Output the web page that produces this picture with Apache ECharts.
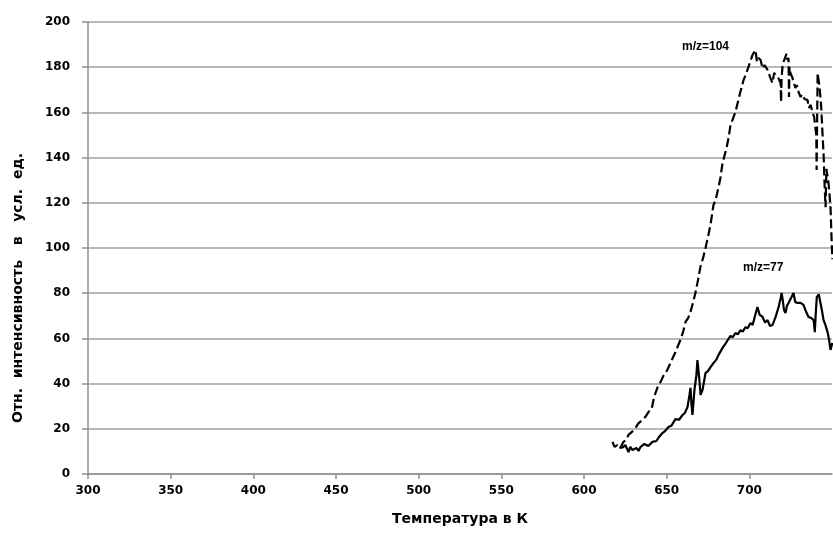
<!DOCTYPE html>
<html>
<head>
<meta charset="utf-8">
<script src="https://cdn.jsdelivr.net/npm/echarts@6/dist/echarts.min.js"></script>
<style>
  html, body { margin: 0; padding: 0; background: #fff; }
  #chart { width: 833px; height: 533px; }
</style>
</head>
<body>
<div id="chart"></div>
<script>
// Температура (K) и интенсивность для двух ионов
const tempTicks = [300, 350, 400, 450, 500, 550, 600, 650, 700];
const intensityTicks = [0, 20, 40, 60, 80, 100, 120, 140, 160, 180, 200];

const mz104 = [
  [617.2, 14.2], [618.5, 12.0], [620.2, 12.8], [622.0, 11.5], [623.8, 14.2], [625.5, 15.0],
  [626.9, 17.3], [629.0, 18.6], [631.1, 20.4], [633.0, 22.5], [634.2, 21.8], [635.3, 23.9],
  [637.0, 25.2], [639.0, 27.4], [641.0, 29.0], [642.0, 32.7], [643.2, 35.8], [645.0, 39.4],
  [646.5, 41.0], [648.0, 43.4], [650.0, 45.5], [652.3, 49.1], [655.3, 54.0], [658.3, 59.3],
  [660.0, 63.0], [661.4, 67.3], [663.0, 69.0], [664.4, 71.7], [666.0, 76.0], [667.4, 80.1],
  [669.0, 86.0], [670.5, 92.0], [672.0, 95.5], [673.5, 100.0], [675.0, 105.0], [676.5, 110.2],
  [678.3, 119.0], [679.5, 121.0], [681.4, 127.0], [682.5, 131.0], [683.8, 137.6], [686.2, 144.2],
  [687.5, 149.0], [688.6, 154.4], [690.0, 157.0], [691.6, 160.2], [694.1, 167.7], [696.5, 174.3],
  [698.0, 177.0], [699.5, 180.1], [701.9, 185.4], [703.7, 187.6], [704.6, 182.5], [705.6, 184.1],
  [706.8, 183.2], [708.0, 179.5], [709.2, 181.0], [711.0, 178.8], [712.8, 175.2], [714.0, 173.0],
  [715.0, 177.5], [715.9, 176.5], [717.7, 175.0], [718.9, 173.0], [719.2, 164.6], [719.5, 175.0],
  [720.1, 180.5], [720.7, 182.3], [721.9, 182.3], [722.5, 186.0], [723.1, 183.2], [723.7, 184.1],
  [724.0, 166.8], [724.3, 180.0], [724.9, 177.4], [726.0, 175.5], [726.7, 173.5], [727.9, 170.8],
  [728.8, 172.0], [729.8, 169.0], [731.0, 166.8], [732.0, 168.0], [733.4, 165.9], [735.2, 165.5],
  [736.0, 162.0], [737.1, 163.3], [738.3, 159.7], [739.2, 158.0], [740.1, 157.5], [740.5, 150.0],
  [740.7, 134.5], [741.3, 177.4], [742.5, 171.0], [743.5, 162.0], [744.3, 150.0], [745.0, 140.0],
  [745.5, 128.0], [746.1, 118.0], [746.6, 135.0], [747.9, 128.8], [749.1, 118.1], [749.7, 105.0],
  [750.2, 95.0]
];

const mz77 = [
  [621.4, 11.5], [623.8, 11.9], [625.0, 12.8], [626.9, 9.7], [628.0, 12.0], [629.3, 10.6],
  [631.7, 11.5], [633.0, 10.2], [634.1, 11.9], [636.5, 13.3], [638.9, 12.4], [641.4, 14.2],
  [643.8, 14.6], [645.5, 16.5], [647.4, 18.1], [649.0, 19.0], [651.1, 20.8], [653.0, 21.5],
  [655.3, 24.3], [657.5, 24.0], [659.6, 26.1], [661.0, 27.0], [662.6, 29.6], [663.8, 35.0],
  [664.4, 38.1], [665.0, 31.0], [665.6, 26.1], [666.8, 37.2], [668.0, 43.8], [668.6, 50.4],
  [669.8, 41.6], [670.5, 35.0], [671.7, 37.2], [673.5, 44.7], [675.0, 45.5], [676.5, 47.3],
  [678.3, 49.1], [680.0, 50.5], [681.4, 52.7], [683.8, 55.8], [685.0, 56.5], [686.2, 58.4],
  [688.6, 61.1], [690.0, 60.5], [691.6, 62.4], [693.0, 61.8], [694.7, 63.7], [696.0, 63.0],
  [697.7, 65.0], [699.0, 64.5], [700.7, 66.8], [702.0, 66.0], [703.1, 69.0], [704.9, 73.9],
  [706.2, 70.5], [708.0, 69.5], [709.5, 67.0], [711.0, 68.1], [712.5, 65.5], [714.0, 65.9],
  [715.9, 69.5], [717.7, 73.9], [719.0, 78.0], [719.5, 80.1], [720.1, 77.5], [721.0, 72.5],
  [721.9, 71.2], [722.8, 74.5], [723.7, 75.7], [725.0, 77.5], [726.7, 80.1], [727.8, 76.0],
  [729.2, 75.7], [731.0, 75.7], [732.8, 74.8], [734.2, 72.0], [735.8, 69.5], [737.5, 69.0],
  [738.9, 68.1], [739.6, 62.8], [740.1, 70.0], [740.8, 78.3], [742.0, 79.5], [743.1, 79.2],
  [744.0, 72.0], [744.9, 68.1], [746.0, 66.0], [747.3, 62.8], [748.2, 59.5], [749.1, 54.9],
  [750.2, 58.0]
];

const chart = echarts.init(document.getElementById('chart'));

const tickFont = {
  color: '#000',
  fontFamily: 'DejaVu Sans, sans-serif',
  fontWeight: 'bold',
  fontSize: 12
};
const titleFont = 'bold 14px "DejaVu Sans", sans-serif';

chart.setOption({
  backgroundColor: '#ffffff',
  animation: false,
  grid: { left: 88, right: 1, top: 22, bottom: 59, containLabel: false },
  xAxis: {
    type: 'value',
    min: 300,
    max: 750,
    interval: 50,
    name: 'Температура в К',
    nameLocation: 'middle',
    nameGap: 38,
    nameTextStyle: { color: '#000', fontFamily: 'DejaVu Sans, sans-serif', fontWeight: 'bold', fontSize: 14 },
    axisLine: { show: true, lineStyle: { color: '#909090', width: 1.5 } },
    axisTick: { show: true, length: 5, lineStyle: { color: '#909090', width: 1.5 } },
    axisLabel: Object.assign({}, tickFont, {
      margin: 11,
      showMaxLabel: false,
      formatter: v => (tempTicks.indexOf(v) >= 0 ? String(v) : '')
    }),
    splitLine: { show: false }
  },
  yAxis: {
    type: 'value',
    min: 0,
    max: 200,
    interval: 20,
    axisLine: { show: true, lineStyle: { color: '#909090', width: 1.5 } },
    axisTick: { show: true, length: 6, lineStyle: { color: '#909090', width: 1.5 } },
    axisLabel: Object.assign({}, tickFont, {
      margin: 18,
      formatter: v => (intensityTicks.indexOf(v) >= 0 ? String(v) : '')
    }),
    splitLine: { show: true, lineStyle: { color: '#a0a0a0', width: 1.5 } }
  },
  series: [
    {
      name: 'm/z=104',
      type: 'line',
      data: mz104,
      showSymbol: false,
      clip: true,
      lineStyle: { color: '#000', width: 2.2, type: [9, 4] }
    },
    {
      name: 'm/z=77',
      type: 'line',
      data: mz77,
      showSymbol: false,
      clip: true,
      lineStyle: { color: '#000', width: 2.2 }
    }
  ],
  graphic: [
    {
      // подпись оси ординат
      type: 'text',
      x: 18,
      y: 288,
      rotation: Math.PI / 2,
      style: {
        text: 'Отн.  интенсивность   в   усл.  ед.',
        font: titleFont,
        fill: '#000',
        align: 'center',
        verticalAlign: 'middle'
      }
    },
    {
      type: 'text',
      left: 682,
      top: 41,
      style: { text: 'm/z=104', font: 'bold 12px "Liberation Sans", Arial, sans-serif', fill: '#000' }
    },
    {
      type: 'text',
      left: 743,
      top: 262,
      style: { text: 'm/z=77', font: 'bold 12px "Liberation Sans", Arial, sans-serif', fill: '#000' }
    }
  ]
});
</script>
</body>
</html>
